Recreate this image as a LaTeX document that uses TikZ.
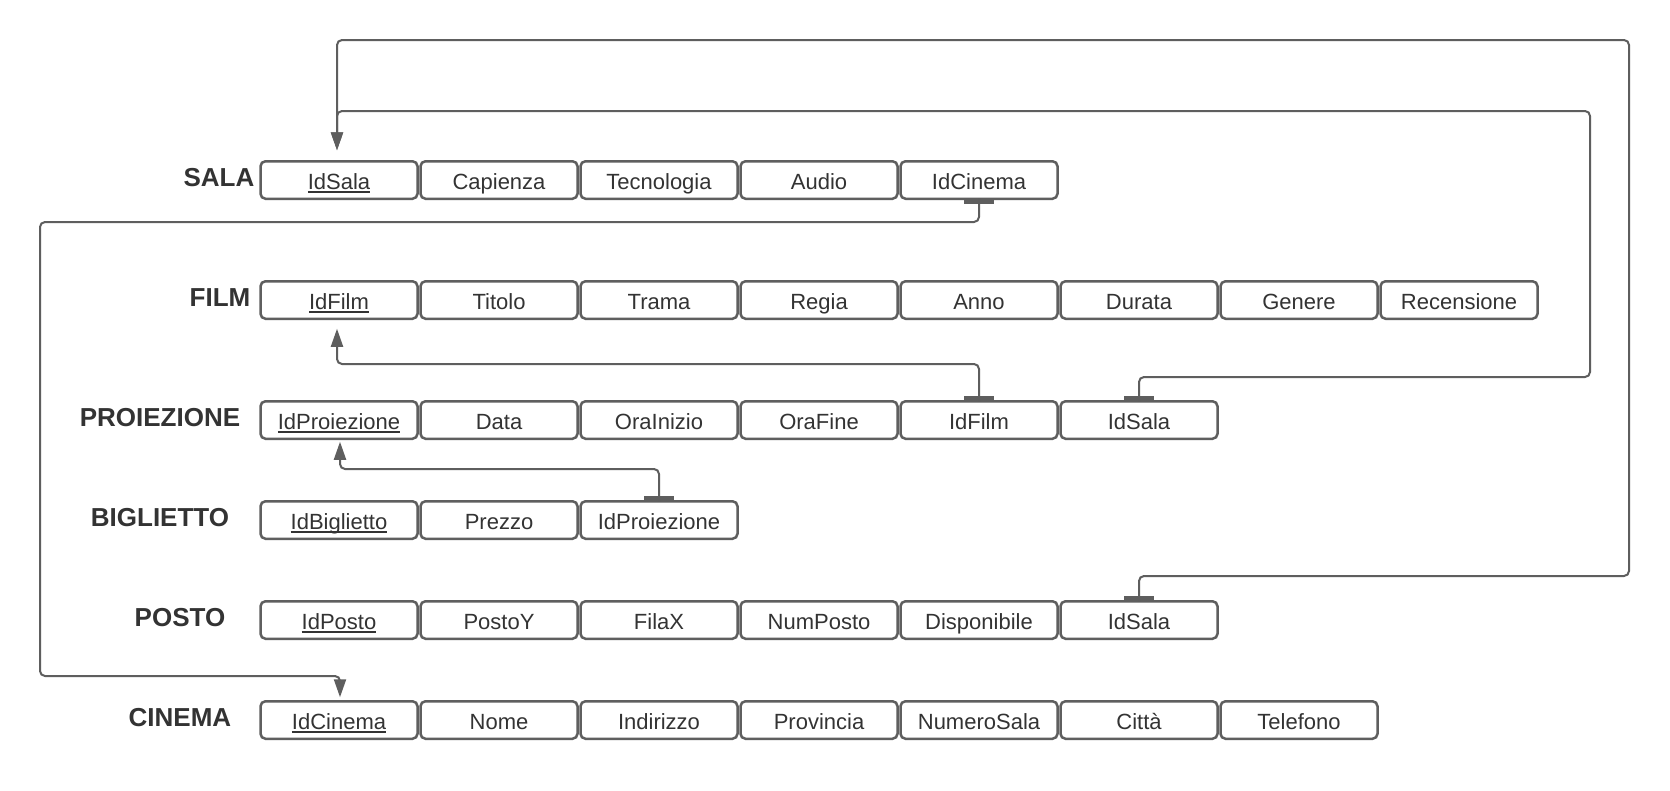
\documentclass[tikz,border=0pt]{standalone}
\usepackage{fontspec}
\setmainfont{Liberation Sans}
\usetikzlibrary{arrows.meta,calc}
\definecolor{boxline}{HTML}{5F5F5F}
\definecolor{txt}{HTML}{333333}
\definecolor{conn}{HTML}{5E5E5E}
\newsavebox\keybox
\newcommand\keyattr[1]{\sbox\keybox{#1}\rlap{\color{txt}\rule[-3pt]{\wd\keybox}{1.8pt}}\usebox\keybox}
\begin{document}
\begin{tikzpicture}[x=1pt,y=-1pt,
  cell/.style={draw=boxline, line width=2.5pt, rounded corners=5pt, minimum width=157pt, minimum height=37.5pt, inner sep=1pt, outer sep=0pt, text=txt, font=\fontsize{22}{26}\selectfont, text height=22pt, text depth=3pt},
  tname/.style={text=txt, font=\bfseries\fontsize{26}{30}\selectfont, anchor=base, inner sep=0pt},
  fk/.style={draw=conn, line width=2pt, rounded corners=5pt, -{Triangle[length=18pt,width=12pt]}},
  fkend/.style={draw=conn, line width=4pt}
]
\fill[white] (0,0) rectangle (1670,790);
\useasboundingbox (0,0) rectangle (1670,790);

% table names
\node[tname] (lsala) at (219,186) {SALA};
\node[tname] (lfilm) at (220,306) {FILM};
\node[tname] (lproiezione) at (160,426) {PROIEZIONE};
\node[tname] (lbiglietto) at (160,526) {BIGLIETTO};
\node[tname] (lposto) at (180,626) {POSTO};
\node[tname] (lcinema) at (180,726) {CINEMA};

% rows
\foreach \t [count=\i from 0] in {{\keyattr{IdSala}},Capienza,Tecnologia,Audio,IdCinema}
  \node[cell] (sala\i) at (339+160*\i,180) {\t};
\foreach \t [count=\i from 0] in {{\keyattr{IdFilm}},Titolo,Trama,Regia,Anno,Durata,Genere,Recensione}
  \node[cell] (film\i) at (339+160*\i,300) {\t};
\foreach \t [count=\i from 0] in {{\keyattr{IdProiezione}},Data,OraInizio,OraFine,IdFilm,IdSala}
  \node[cell] (proiezione\i) at (339+160*\i,420) {\t};
\foreach \t [count=\i from 0] in {{\keyattr{IdBiglietto}},Prezzo,IdProiezione}
  \node[cell] (biglietto\i) at (339+160*\i,520) {\t};
\foreach \t [count=\i from 0] in {{\keyattr{IdPosto}},PostoY,FilaX,NumPosto,Disponibile,IdSala}
  \node[cell] (posto\i) at (339+160*\i,620) {\t};
\foreach \t [count=\i from 0] in {{\keyattr{IdCinema}},Nome,Indirizzo,Provincia,NumeroSala,Città,Telefono}
  \node[cell] (cinema\i) at (339+160*\i,720) {\t};

% foreign keys
\draw[fk] (posto5.north) |- (1629,576) |- (337,40) -- ($(sala0.north)+(-2,-11)$);
\draw[fk] (proiezione5.north) |- (1590,377) |- (337,111) -- ($(sala0.north)+(-2,-11)$);
\draw[fk] (sala4.south) |- (40,222) |- (340,676) -- ($(cinema0.north)+(1,-4)$);
\draw[fk] (proiezione4.north) |- (337,364) -- ($(film0.south)+(-2,10)$);
\draw[fk] (biglietto2.north) |- (340,469) -- ($(proiezione0.south)+(1,3)$);

% foreign key end bars
\draw[fkend] ($(posto5.north)+(-15,-3)$) -- ++(30,0);
\draw[fkend] ($(proiezione5.north)+(-15,-3)$) -- ++(30,0);
\draw[fkend] ($(proiezione4.north)+(-15,-3)$) -- ++(30,0);
\draw[fkend] ($(biglietto2.north)+(-15,-3)$) -- ++(30,0);
\draw[fkend] ($(sala4.south)+(-15,3)$) -- ++(30,0);
\end{tikzpicture}
\end{document}
